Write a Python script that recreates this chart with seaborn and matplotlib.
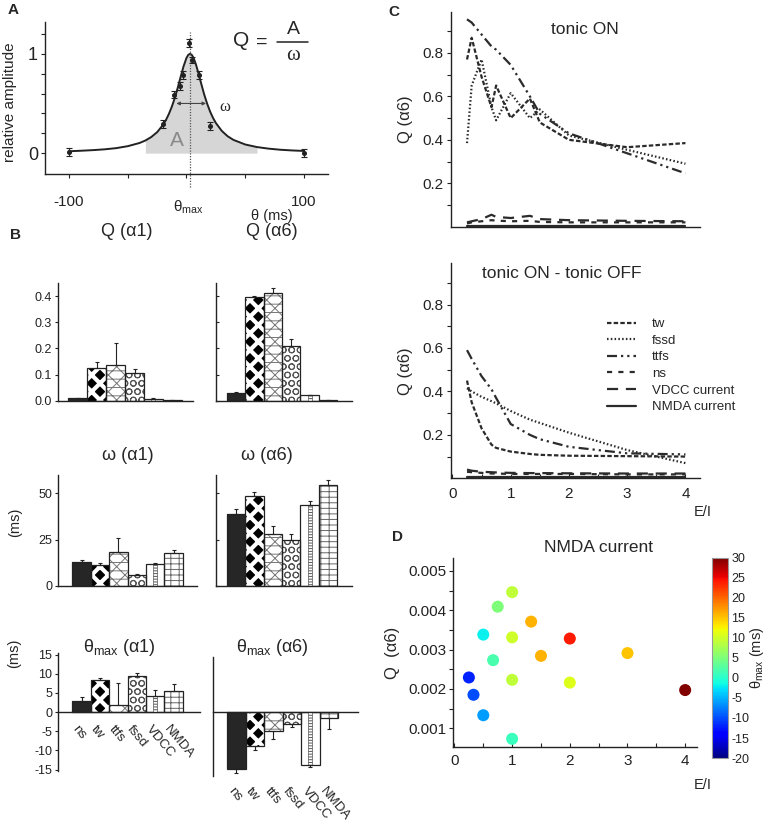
import numpy as np
import pandas as pd
import matplotlib
matplotlib.use('Agg')
import matplotlib.pyplot as plt
import seaborn as sns
from matplotlib.lines import Line2D
from matplotlib.ticker import FixedLocator, NullFormatter
import matplotlib.cm as cm
import matplotlib.colors as mcolors

sns.set_style('ticks')
plt.rcParams['font.family'] = ['Liberation Sans', 'DejaVu Sans']
plt.rcParams['mathtext.fontset'] = 'custom'
plt.rcParams['mathtext.rm'] = 'Liberation Sans'
plt.rcParams['mathtext.it'] = 'Liberation Sans:italic'
plt.rcParams['axes.unicode_minus'] = False
plt.rcParams['axes.linewidth'] = 1.0
plt.rcParams['hatch.linewidth'] = 0.7
plt.rcParams['axes.edgecolor'] = '#222222'
plt.rcParams['xtick.color'] = '#222222'
plt.rcParams['ytick.color'] = '#222222'

# ---------------- data ----------------
# Panel A: tuning curve (fit) and measured points
theta_fit = [-100, -90, -80, -70, -60, -50, -40, -35, -30, -25, -20, -17.5, -15, -12.5, -10,
             -7.5, -5, -2.5, 0, 1.5, 3, 4.5, 6, 8, 10, 12, 15, 17.5, 20, 22.5, 25, 30, 35,
             40, 50, 60, 70, 80, 90, 100]
amp_fit = [0.019, 0.024, 0.030, 0.038, 0.050, 0.070, 0.102, 0.127, 0.162, 0.211, 0.284, 0.333,
           0.394, 0.467, 0.554, 0.656, 0.767, 0.874, 0.959, 0.989, 1.0, 0.989, 0.959, 0.894,
           0.811, 0.722, 0.593, 0.5, 0.421, 0.356, 0.303, 0.224, 0.170, 0.133, 0.087, 0.061,
           0.045, 0.034, 0.027, 0.022]
theta_pts = [-100, -20, -10.5, -5.5, -2.7, 2.1, 5.0, 10.4, 20.0, 100]
amp_pts = [0.01, 0.29, 0.59, 0.68, 0.79, 1.11, 0.94, 0.79, 0.27, 0.0]
amp_err = [0.04, 0.04, 0.04, 0.04, 0.04, 0.04, 0.03, 0.04, 0.04, 0.04]

# Panel B: bar values and errors
cats = ['ns', 'tw', 'ttfs', 'fssd', 'VDCC', 'NMDA']
q_a1 = [0.010, 0.125, 0.135, 0.107, 0.008, 0.002]
q_a1_err = [0.002, 0.022, 0.085, 0.016, 0.001, 0.0]
q_a6 = [0.028, 0.395, 0.410, 0.210, 0.020, 0.002]
q_a6_err = [0.005, 0.005, 0.020, 0.024, 0.003, 0.0]
w_a1 = [13.0, 11.0, 18.0, 5.8, 11.5, 17.5]
w_a1_err = [1.0, 1.5, 7.7, 0.8, 1.0, 1.7]
w_a6 = [39.0, 48.5, 28.0, 25.0, 43.8, 54.5]
w_a6_err = [2.4, 2.4, 4.4, 3.2, 2.2, 2.9]
t_a1 = [3.0, 8.3, 1.8, 9.5, 4.2, 5.5]
t_a1_err = [1.0, 0.7, 5.7, 0.7, 1.5, 1.7]
t_a6 = [-15.0, -8.8, -5.0, -3.0, -13.7, -1.5]
t_a6_err = [1.0, 1.1, 2.0, 0.8, 0.6, 2.8]

# Panel C: Q(alpha6) vs E/I
ei = [0.25, 0.33, 0.5, 0.67, 0.75, 1.0, 1.33, 1.5, 2.0, 3.0, 4.0]
on_tw = [0.77, 0.87, 0.69, 0.55, 0.65, 0.50, 0.59, 0.48, 0.40, 0.366, 0.385]
on_fssd = [0.385, 0.65, 0.77, 0.55, 0.49, 0.615, 0.50, 0.54, 0.42, 0.354, 0.29]
on_ttfs = [0.955, 0.94, 0.885, 0.83, 0.815, 0.745, 0.60, 0.52, 0.43, 0.338, 0.246]
on_ns = [0.015, 0.02, 0.025, 0.03, 0.028, 0.025, 0.027, 0.022, 0.02, 0.02, 0.02]
on_vdcc = [0.02, 0.025, 0.035, 0.055, 0.045, 0.040, 0.050, 0.035, 0.030, 0.027, 0.025]
on_nmda = [0.004, 0.004, 0.004, 0.004, 0.004, 0.004, 0.004, 0.004, 0.004, 0.004, 0.004]
off_tw = [0.45, 0.35, 0.23, 0.155, 0.14, 0.123, 0.112, 0.108, 0.104, 0.102, 0.100]
off_fssd = [0.415, 0.40, 0.375, 0.355, 0.345, 0.31, 0.27, 0.255, 0.21, 0.13, 0.07]
off_ttfs = [0.59, 0.55, 0.47, 0.41, 0.37, 0.25, 0.20, 0.18, 0.145, 0.115, 0.11]
off_ns = [0.03, 0.028, 0.025, 0.022, 0.022, 0.02, 0.02, 0.02, 0.02, 0.018, 0.018]
off_vdcc = [0.04, 0.035, 0.03, 0.028, 0.027, 0.025, 0.024, 0.024, 0.023, 0.022, 0.022]
off_nmda = [0.005, 0.005, 0.005, 0.005, 0.005, 0.005, 0.005, 0.005, 0.005, 0.005, 0.005]

# Panel D: NMDA current scatter
d_ei = [0.25, 0.33, 0.5, 0.5, 0.67, 0.75, 1, 1, 1, 1, 1.33, 1.5, 2, 2, 3, 4]
d_q = [0.00229, 0.00185, 0.00133, 0.00338, 0.00273, 0.00409, 0.00446, 0.00331, 0.00223,
       0.00073, 0.00371, 0.00284, 0.00328, 0.00216, 0.00291, 0.00197]
d_theta = [-12, -10, -6, -2, 2, 5, 9, 10, 9, 1, 16, 16, 24, 11, 15, 30]

# ---------------- figure ----------------
W, H = 767, 821
fig = plt.figure(figsize=(W / 100, H / 100), dpi=100)


def add_ax(x0, y0, x1, y1):
    return fig.add_axes([x0 / W, 1 - y1 / H, (x1 - x0) / W, (y1 - y0) / H])


def ftext(x, y, s, **kw):
    return fig.text(x / W, 1 - y / H, s, **kw)


INK = '#222222'
JET = matplotlib.colormaps['jet']

# ---------- Panel A ----------
axA = add_ax(45, 22, 328, 174)
tf = np.array(theta_fit)
af = np.array(amp_fit)
m = (tf >= -35) & (tf <= 60)
axA.fill_between(tf[m], 0, af[m], color='#d6d6d6', lw=0, zorder=0)
sns.lineplot(x=theta_fit, y=amp_fit, ax=axA, color=INK, lw=1.4, sort=False, estimator=None)
axA.errorbar(theta_pts, amp_pts, yerr=amp_err, fmt='o', ms=2.6, color=INK, capsize=2,
             elinewidth=0.8, capthick=0.8, zorder=5)
axA.plot([3, 3], [-0.34, 1.22], ls=(0, (1, 1.2)), color='#555555', lw=0.9, clip_on=False)
axA.annotate('', xy=(-11, 0.5), xytext=(19, 0.5),
             arrowprops=dict(arrowstyle='<|-|>', lw=0.8, color='#444444', mutation_scale=5))
axA.text(-8, 0.13, 'A', color='#8a8a8a', fontsize=15, ha='center', va='center')
axA.text(33, 0.46, 'ω', fontsize=12, ha='center', va='center', family=['Liberation Serif', 'DejaVu Serif'])
axA.set_xlim(-120.4, 120.4)
axA.set_ylim(-0.21, 1.32)
axA.set_xticks([-100, -50, 0, 50, 100])
axA.set_xticklabels(['-100', '', '', '', '100'], fontsize=11)
axA.set_yticks([0, 0.2, 0.4, 0.6, 0.8, 1.0, 1.2])
axA.set_yticklabels(['0', '', '', '', '', '1', ''], fontsize=13)
axA.tick_params(direction='out', length=3, width=0.8, pad=2)
axA.tick_params(axis='x', pad=12)
axA.set_xlabel('')
axA.set_ylabel('relative amplitude', fontsize=11)
axA.yaxis.set_label_coords(-0.10, 0.47)
sns.despine(ax=axA)
ftext(188, 207, 'θ$_{\\rm max}$', fontsize=11, ha='center', va='center')
ftext(272, 216, 'θ (ms)', fontsize=10.5, ha='center', va='center')
ftext(241, 41, 'Q', fontsize=15, ha='center', va='center')
ftext(262, 42, '=', fontsize=14, ha='center', va='center')
ftext(293, 30, 'A', fontsize=14, ha='center', va='center')
ftext(293, 56, 'ω', fontsize=15, ha='center', va='center', family=['Liberation Serif', 'DejaVu Serif'])
fig.add_artist(Line2D([277 / W, 308 / W], [1 - 42 / H, 1 - 42 / H], color=INK, lw=1.1))
ftext(8, 10, 'A', fontsize=11, fontweight='bold', ha='left', va='center')

# ---------- Panel B ----------
faces = ['#262626', 'black', 'white', 'white', 'white', 'white']
hcols = ['#262626', 'white', '#777777', '#555555', 'white', '#666666']
hatches = ['', 'xx', 'xx--', 'OO', '', '---||']


def bar_panel(ax, vals, errs, show_labels):
    df = pd.DataFrame({'cat': cats, 'val': vals})
    sns.barplot(data=df, x='cat', y='val', ax=ax, width=1.0, color='white',
                errorbar=None, saturation=1, zorder=2)
    for p, fc, hc, h in zip(ax.patches[:6], faces, hcols, hatches):
        p.set_facecolor(fc)
        p.set_edgecolor(hc)
        p.set_hatch(h)
        p.set_linewidth(0)
        if h == 'xx' and hasattr(p, 'set_hatch_linewidth'):
            p.set_hatch_linewidth(3.0)
    # VDCC ribbon
    ax.bar([4], [vals[4]], width=0.2, facecolor='white', edgecolor='#555555',
           hatch='------', lw=0.5, zorder=3)
    sns.barplot(data=df, x='cat', y='val', ax=ax, width=1.0, color='white',
                errorbar=None, saturation=1, zorder=4)
    for p in ax.patches[7:]:
        p.set_facecolor('none')
        p.set_edgecolor(INK)
        p.set_linewidth(0.9)
    v = np.array(vals)
    e = np.array(errs)
    lo = np.where(v < 0, e, 0)
    hi = np.where(v >= 0, e, 0)
    ax.errorbar(range(6), vals, yerr=[lo, hi], fmt='none', ecolor=INK, elinewidth=0.8,
                capsize=1.3, capthick=0.8, zorder=5)
    ax.set_xlabel('')
    ax.set_ylabel('')
    ax.set_xticks([])
    sns.despine(ax=ax)
    ax.tick_params(axis='y', length=2.5, width=0.8, labelsize=9, pad=2)
    if not show_labels:
        ax.yaxis.set_major_formatter(NullFormatter())
        ax.tick_params(axis='y', direction='in')


axB1L = add_ax(58.3, 283, 193, 400.7)
bar_panel(axB1L, q_a1, q_a1_err, True)
axB1L.set_xlim(-1.04, 6.1)
axB1L.set_ylim(0, 0.45)
axB1L.set_yticks([0, 0.1, 0.2, 0.3, 0.4])
axB1L.set_yticklabels(['0.0', '0.1', '0.2', '0.3', '0.4'])

axB1R = add_ax(216, 283, 352, 400.7)
bar_panel(axB1R, q_a6, q_a6_err, False)
axB1R.set_xlim(-1.09, 6.3)
axB1R.set_ylim(0, 0.45)
axB1R.set_yticks([0, 0.1, 0.2, 0.3, 0.4])

axB2L = add_ax(58.3, 475, 197, 585.7)
bar_panel(axB2L, w_a1, w_a1_err, True)
axB2L.set_xlim(-1.27, 6.27)
axB2L.set_ylim(0, 60)
axB2L.set_yticks([0, 25, 50])
axB2L.set_ylabel('(ms)', fontsize=10.5)
axB2L.yaxis.set_label_coords(-0.26, 0.57)

axB2R = add_ax(216, 475, 352, 585.7)
bar_panel(axB2R, w_a6, w_a6_err, False)
axB2R.set_xlim(-1.09, 6.3)
axB2R.set_ylim(0, 60)
axB2R.set_yticks([0, 25, 50])

axB3L = add_ax(58.3, 653, 200, 770.7)
bar_panel(axB3L, t_a1, t_a1_err, True)
axB3L.set_xlim(-1.27, 6.43)
axB3L.set_ylim(-15.3, 15.4)
axB3L.set_yticks([-15, -10, -5, 0, 5, 10, 15])
axB3L.spines['bottom'].set_position(('data', 0))
axB3L.set_ylabel('(ms)', fontsize=10.5)
axB3L.yaxis.set_label_coords(-0.26, 1.0)
for i, c in enumerate(cats):
    axB3L.text(i - 0.15, -3.0, c, rotation=-50, rotation_mode='anchor', ha='left', va='top',
               fontsize=9.5)

axB3R = add_ax(213, 657, 358, 776)
bar_panel(axB3R, t_a6, t_a6_err, False)
axB3R.set_xlim(-1.27, 6.58)
axB3R.set_ylim(-16.7, 14.4)
axB3R.set_yticks([])
axB3R.spines['bottom'].set_position(('data', 0))
for i, c in enumerate(cats):
    axB3R.text(i - 0.1, -19.0, c, rotation=-50, rotation_mode='anchor', ha='left', va='top',
               fontsize=9.5, clip_on=False)

ftext(127, 232, 'Q (α1)', fontsize=13, ha='center', va='center')
ftext(272, 232, 'Q (α6)', fontsize=13, ha='center', va='center')
ftext(128, 455, 'ω (α1)', fontsize=13, ha='center', va='center')
ftext(267, 455, 'ω (α6)', fontsize=13, ha='center', va='center')
ftext(119, 647, 'θ$_{\\rm max}$ (α1)', fontsize=13, ha='center', va='center')
ftext(272, 647, 'θ$_{\\rm max}$ (α6)', fontsize=13, ha='center', va='center')
ftext(10, 235, 'B', fontsize=11, fontweight='bold', ha='left', va='center')

# ---------- Panel C ----------
LC = '#2b2b2b'
styles = {
    'tw': (0, (2.0, 1.0)),
    'fssd': (0, (0.7, 1.0)),
    'ttfs': (0, (4.5, 1.8, 1.0, 1.8, 1.0, 1.8)),
    'ns': (0, (2.3, 2.8)),
    'VDCC current': (0, (5.0, 3.5)),
    'NMDA current': '-',
}
on_series = [('tw', on_tw), ('fssd', on_fssd), ('ttfs', on_ttfs), ('ns', on_ns),
             ('VDCC current', on_vdcc), ('NMDA current', on_nmda)]
off_series = [('tw', off_tw), ('fssd', off_fssd), ('ttfs', off_ttfs), ('ns', off_ns),
              ('VDCC current', off_vdcc), ('NMDA current', off_nmda)]


def c_panel(ax, series):
    for name, vals in series:
        sns.lineplot(x=ei, y=vals, ax=ax, color=LC, lw=1.6, linestyle=styles[name],
                     sort=False, estimator=None, label=name, legend=False)
    ax.set_xlim(-0.03, 4.25)
    ax.set_ylim(0, 0.99)
    ax.set_yticks([0.1, 0.2, 0.3, 0.4, 0.5, 0.6, 0.7, 0.8, 0.9])
    ax.set_yticklabels(['', '0.2', '', '0.4', '', '0.6', '', '0.8', ''], fontsize=11)
    ax.tick_params(axis='y', direction='out', length=3, width=0.8, pad=2)
    ax.set_ylabel('Q (α6)', fontsize=12)
    ax.yaxis.set_label_coords(-0.15, 0.5)
    ax.set_xlabel('')
    sns.despine(ax=ax)


axC1 = add_ax(450.7, 11.7, 700, 226.7)
c_panel(axC1, on_series)
axC1.set_xticks([])

axC2 = add_ax(450.7, 263.3, 700, 478.3)
c_panel(axC2, off_series)
axC2.set_xticks([0, 0.5, 1, 1.5, 2, 2.5, 3, 3.5, 4])
axC2.set_xticklabels(['0', '', '1', '', '2', '', '3', '', '4'], fontsize=11)
axC2.tick_params(axis='x', direction='in', length=3, width=0.8, pad=6)
handles = [Line2D([], [], color=LC, lw=1.6, linestyle=styles[n]) for n, _ in off_series]
labels = [n for n, _ in off_series]
fig.legend(handles, labels, loc='upper left', bbox_to_anchor=(607 / W, 1 - 318 / H),
           frameon=False, fontsize=9.5, handlelength=2.2, handletextpad=1.2,
           labelspacing=0.33, borderpad=0, borderaxespad=0)
ftext(585, 29, 'tonic ON', fontsize=12.5, ha='center', va='center')
ftext(562, 273, 'tonic ON - tonic OFF', fontsize=12.5, ha='center', va='center')
ftext(703, 512, 'E/I', fontsize=10.5, ha='center', va='center')
ftext(388, 12, 'C', fontsize=11, fontweight='bold', ha='left', va='center')

# ---------- Panel D ----------
axD = add_ax(453.3, 558.3, 696.7, 746.7)
norm = mcolors.Normalize(vmin=-20, vmax=30)
dfD = pd.DataFrame({'ei': d_ei, 'q': d_q, 'th': d_theta})
sns.scatterplot(data=dfD, x='ei', y='q', hue='th', palette=JET, hue_norm=norm, ax=axD,
                s=75, edgecolor='none', legend=False, zorder=3)
axD.set_xlim(-0.02, 4.2)
axD.set_ylim(0.00053, 0.00532)
axD.set_xticks([0, 0.5, 1, 1.5, 2, 2.5, 3, 3.5, 4])
axD.set_xticklabels(['0', '', '1', '', '2', '', '3', '', '4'], fontsize=11)
axD.set_yticks([0.001, 0.0015, 0.002, 0.0025, 0.003, 0.0035, 0.004, 0.0045, 0.005])
axD.set_yticklabels(['0.001', '', '0.002', '', '0.003', '', '0.004', '', '0.005'], fontsize=11)
axD.tick_params(axis='x', direction='in', length=3, width=0.8, pad=5)
axD.tick_params(axis='y', direction='out', length=3, width=0.8, pad=2)
axD.set_xlabel('')
axD.set_ylabel('Q  (α6)', fontsize=12)
axD.yaxis.set_label_coords(-0.22, 0.5)
sns.despine(ax=axD)

cax = add_ax(711.7, 558, 728.3, 758)
sm = cm.ScalarMappable(norm=norm, cmap=JET)
cb = fig.colorbar(sm, cax=cax)
cb.set_ticks([-20, -15, -10, -5, 0, 5, 10, 15, 20, 25, 30])
cb.ax.tick_params(labelsize=9, length=0, pad=2)
cb.outline.set_edgecolor('#999999')
cb.outline.set_linewidth(0.8)
ftext(757, 658, 'θ$_{\\rm max}$ (ms)', fontsize=10.5, rotation=90, ha='center', va='center')
ftext(598, 548, 'NMDA current', fontsize=12.5, ha='center', va='center')
ftext(703, 785, 'E/I', fontsize=10.5, ha='center', va='center')
ftext(392, 537, 'D', fontsize=11, fontweight='bold', ha='left', va='center')

fig.savefig('out.png', dpi=100)
